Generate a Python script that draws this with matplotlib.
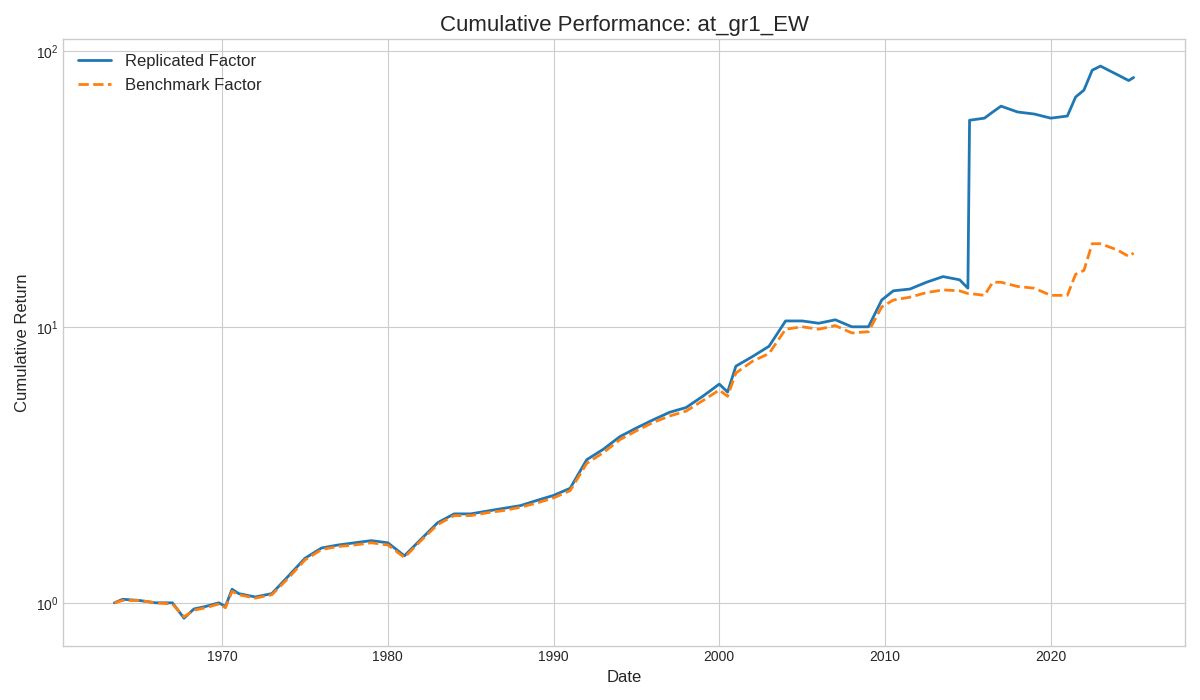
import matplotlib
matplotlib.use("Agg")
import matplotlib.pyplot as plt

# dates in decimal years
dates = [1963.5, 1964.0, 1965.0, 1966.0, 1967.0, 1967.7, 1968.3, 1969.0, 1969.8, 1970.2,
         1970.6, 1971.0, 1972.0, 1973.0, 1974.0, 1975.0, 1976.0, 1977.0, 1978.0, 1979.0,
         1980.0, 1981.0, 1982.0, 1983.0, 1984.0, 1985.0, 1986.0, 1987.0, 1988.0, 1989.0,
         1990.0, 1991.0, 1992.0, 1993.0, 1994.0, 1995.0, 1996.0, 1997.0, 1998.0, 1999.0,
         2000.0, 2000.5, 2001.0, 2002.0, 2003.0, 2004.0, 2005.0, 2006.0, 2007.0, 2008.0,
         2009.0, 2009.8, 2010.5, 2011.5, 2012.5, 2013.5, 2014.5, 2015.0, 2015.1, 2016.0,
         2016.5, 2017.0, 2018.0, 2019.0, 2020.0, 2021.0, 2021.5, 2022.0, 2022.5, 2023.0,
         2024.0, 2024.7, 2025.0]

replicated = [1.0, 1.03, 1.02, 1.0, 1.0, 0.88, 0.95, 0.97, 1.0, 0.97,
              1.12, 1.08, 1.05, 1.08, 1.25, 1.45, 1.58, 1.62, 1.65, 1.68,
              1.65, 1.48, 1.7, 1.95, 2.1, 2.1, 2.15, 2.2, 2.25, 2.35,
              2.45, 2.6, 3.3, 3.6, 4.0, 4.3, 4.6, 4.9, 5.1, 5.6,
              6.2, 5.8, 7.2, 7.8, 8.5, 10.5, 10.5, 10.3, 10.6, 10.0,
              10.0, 12.5, 13.5, 13.7, 14.5, 15.2, 14.8, 13.8, 56.0, 57.0,
              60.0, 63.0, 60.0, 59.0, 57.0, 58.0, 68.0, 72.0, 85.0, 88.0,
              82.0, 78.0, 80.0]

benchmark = [1.0, 1.02, 1.02, 1.0, 0.99, 0.89, 0.94, 0.96, 0.99, 0.96,
             1.1, 1.07, 1.04, 1.07, 1.23, 1.43, 1.56, 1.6, 1.62, 1.65,
             1.62, 1.46, 1.68, 1.92, 2.07, 2.07, 2.12, 2.16, 2.22, 2.3,
             2.4, 2.55, 3.2, 3.5, 3.9, 4.2, 4.5, 4.75, 4.95, 5.4,
             5.9, 5.6, 6.8, 7.5, 8.0, 9.8, 10.0, 9.8, 10.1, 9.5,
             9.6, 11.8, 12.5, 12.8, 13.3, 13.6, 13.5, 13.2, 13.2, 13.0,
             14.5, 14.5, 14.0, 13.8, 13.0, 13.0, 15.5, 16.0, 20.0, 20.0,
             19.0, 18.0, 18.5]

plt.style.use("seaborn-v0_8-whitegrid")
fig, ax = plt.subplots(figsize=(12, 7), dpi=100)
ax.plot(dates, replicated, color="#1f77b4", lw=2, label="Replicated Factor")
ax.plot(dates, benchmark, color="#ff7f0e", lw=2, ls="--", label="Benchmark Factor")
ax.set_yscale("log")
ax.set_xlim(1960.4, 2028.1)
ax.set_ylim(0.7, 110)
ax.set_xticks([1970, 1980, 1990, 2000, 2010, 2020])
ax.set_title("Cumulative Performance: at_gr1_EW", fontsize=16)
ax.set_xlabel("Date", fontsize=12)
ax.set_ylabel("Cumulative Return", fontsize=12)
ax.legend(loc="upper left", fontsize=12)
for s in ax.spines.values():
    s.set_visible(True)
    s.set_color("#cccccc")
fig.tight_layout()
fig.savefig("out.png")
